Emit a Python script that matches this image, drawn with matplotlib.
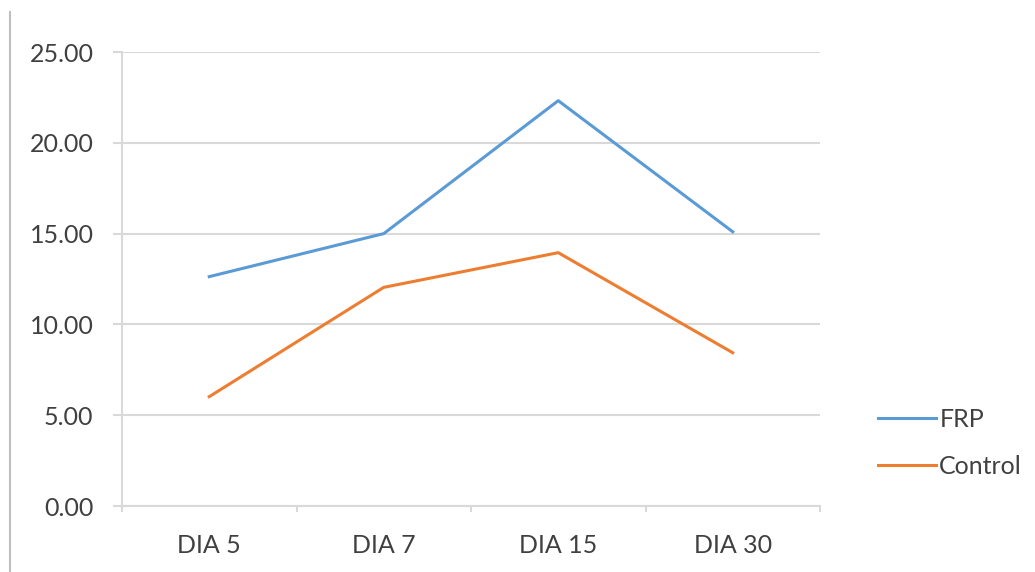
import matplotlib
matplotlib.use("Agg")
import matplotlib.pyplot as plt
from matplotlib.lines import Line2D

categories = ["DIA 5", "DIA 7", "DIA 15", "DIA 30"]
frp = [12.63, 15.00, 22.32, 15.10]
control = [6.02, 12.04, 13.95, 8.44]
yticks = [0, 5, 10, 15, 20, 25]

plt.rcParams['font.family'] = ['Lato', 'DejaVu Sans']
txt = '#404040'
grid = '#D9D9D9'
fs = 18

W, H = 1035, 572
fig = plt.figure(figsize=(W/100, H/100), dpi=100)
ax = fig.add_axes([122/W, 1-506/H, (820-122)/W, (506-52)/H])

x = list(range(len(categories)))
ax.plot(x, frp, color='#5B9BD5', lw=2.2, label='FRP', solid_joinstyle='round')
ax.plot(x, control, color='#ED7D31', lw=2.2, label='Control', solid_joinstyle='round')

ax.set_xlim(-0.5, len(categories)-0.5)
ax.set_ylim(0, 25)
ax.set_yticks(yticks)
ax.set_yticklabels([f"{v:.2f}" for v in yticks], color=txt, fontsize=fs)
ax.set_xticks(x)
ax.set_xticklabels(categories, color=txt, fontsize=fs)
ax.tick_params(axis='x', length=0, pad=20)
ax.tick_params(axis='y', length=6.5, color=grid, width=1.5, pad=14)
ax.set_xticks([i-0.5 for i in range(len(categories)+1)], minor=True)
ax.tick_params(axis='x', which='minor', length=4.5, color=grid, width=1.5)
ax.yaxis.grid(True, color=grid, lw=1.5)
ax.set_axisbelow(True)
for s in ['top', 'right']:
    ax.spines[s].set_visible(False)
ax.spines['left'].set_color(grid)
ax.spines['left'].set_linewidth(1.5)
ax.spines['bottom'].set_color(grid)
ax.spines['bottom'].set_linewidth(1.5)

leg = fig.legend(loc='center left', bbox_to_anchor=(878/W, 1-443/H), frameon=False,
                 borderpad=0, borderaxespad=0,
                 fontsize=fs, handlelength=2.3, handletextpad=0.15, labelspacing=0.95,
                 labelcolor=txt)

fig.add_artist(Line2D([10/W, 10/W], [0, 1-12/H], color='#BFBFBF', lw=1.5))

fig.savefig('out.png', dpi=100, facecolor='white')
